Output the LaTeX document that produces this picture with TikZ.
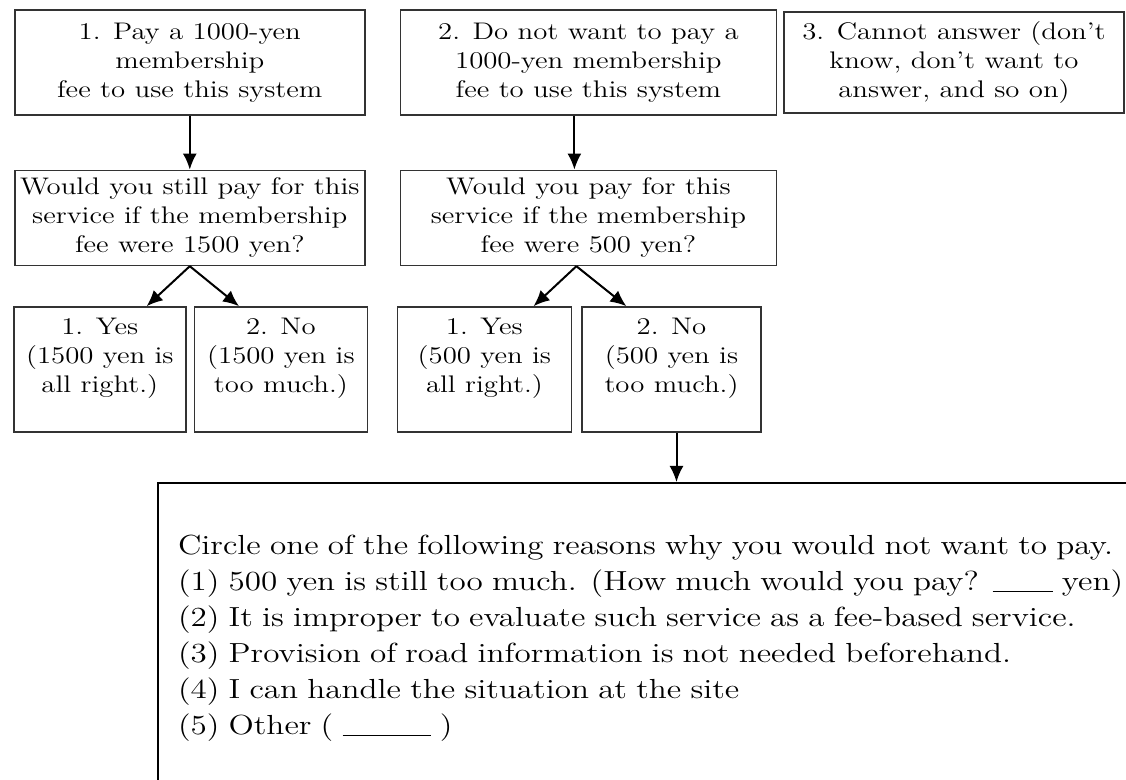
\documentclass[tikz,border=0pt]{standalone}
\usepackage{fontspec}
\setmainfont{Latin Modern Roman}[FakeStretch=1.2]
\usetikzlibrary{arrows.meta,positioning,calc}

\begin{document}
\begin{tikzpicture}[
    node distance=27pt and 17pt,
    box/.style={draw=black!80, line width=0.8pt, align=center,
      font=\fontsize{12}{14.5}\selectfont, inner sep=2pt},
    ans/.style={box, minimum height=62.5pt, text depth=14pt},
    arr/.style={-{Latex[length=8pt,width=7pt]}, line width=1pt}
  ]
    \useasboundingbox (0,0) rectangle (563pt,-390pt);
    \node[box, anchor=north west, minimum width=175pt, minimum height=52.5pt] (pay) at (7pt,-4.5pt)
      {1. Pay a 1000-yen\\membership\\fee to use this system};
    \node[box, right=of pay, minimum width=188pt, minimum height=52.5pt] (nopay)
      {2. Do not want to pay a\\1000-yen membership\\fee to use this system};
    \node[box, right=3pt of nopay, minimum width=170pt, minimum height=50.5pt] (cannot)
      {3. Cannot answer (don't\\know, don't want to\\answer, and so on)};
    \node[box, below=of pay, minimum width=175pt, minimum height=47.5pt] (ask1500)
      {Would you still pay for this\\service if the membership\\fee were 1500 yen?};
    \node[box, below=of nopay, minimum width=188pt, minimum height=47.5pt] (ask500)
      {Would you pay for this\\service if the membership\\fee were 500 yen?};
    \node[ans, below=20pt of ask1500.south west, anchor=north west, xshift=-0.5pt, minimum width=86pt] (yes1500)
      {1. Yes\\(1500 yen is\\all right.)};
    \node[ans, right=3.5pt of yes1500, minimum width=86.5pt] (no1500)
      {2. No\\(1500 yen is\\too much.)};
    \node[ans, below=20pt of ask500.south west, anchor=north west, xshift=-1.5pt, minimum width=87pt] (yes500)
      {1. Yes\\(500 yen is\\all right.)};
    \node[ans, right=4.5pt of yes500, minimum width=89.5pt] (no500)
      {2. No\\(500 yen is\\too much.)};
    \node[draw, line width=1pt, anchor=north west, text width=520pt, align=left, inner xsep=10pt,
      minimum height=155pt, font=\fontsize{13.8}{18}\selectfont] (reasons) at (78.5pt,-241pt)
      {Circle one of the following reasons why you would not want to pay.\\
       (1) 500 yen is still too much. (How much would you pay? \rule[-1pt]{30pt}{0.6pt} yen)\\
       (2) It is improper to evaluate such service as a fee-based service.\\
       (3) Provision of road information is not needed beforehand.\\
       (4) I can handle the situation at the site\\
       (5) Other ( \rule[-1pt]{44pt}{0.6pt} )};
    \draw[arr] (pay) -- (ask1500);
    \draw[arr] ([xshift=-7pt]nopay.south) -- ([xshift=-7pt]ask500.north);
    \draw[arr] (ask1500.south) -- ($(yes1500.north west)!0.77!(yes1500.north east)$);
    \draw[arr] (ask1500.south) -- ($(no1500.north west)!0.26!(no1500.north east)$);
    \draw[arr] ([xshift=-6pt]ask500.south) -- ($(yes500.north west)!0.78!(yes500.north east)$);
    \draw[arr] ([xshift=-6pt]ask500.south) -- ($(no500.north west)!0.25!(no500.north east)$);
    \draw[arr] ([xshift=2.5pt]no500.south) -- ([xshift=2.5pt]no500.south |- reasons.north);
  \end{tikzpicture}
\end{document}
